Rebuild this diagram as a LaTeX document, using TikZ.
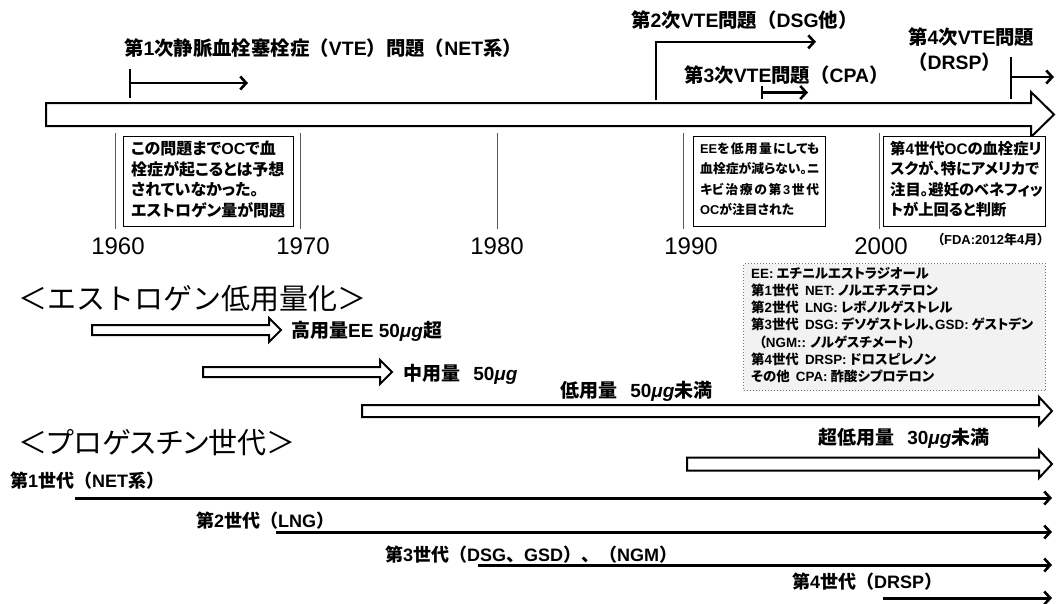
\documentclass[tikz,border=0pt]{standalone}
\usepackage{fontspec}
\usetikzlibrary{arrows.meta}
\newfontfamily\jp{Noto Sans CJK JP}
\newfontfamily\jpp[RawFeature=+palt]{Noto Sans CJK JP}
\newfontfamily\yr{Liberation Sans}
\newfontfamily\lat{Liberation Sans}
\newcommand\la[1]{{\lat #1}}
\newcommand\mug{{\lat\itshape μg}}
\newcommand\fs[2]{\fontsize{#1}{#2}\selectfont}
\newcommand\jline[1]{\hbox to 119pt{#1}}
\newcommand\hollowarr[6]{%
  \draw[hol] (#1,#3-#4) -- (#2-#6,#3-#4) -- (#2-#6,#3-#5) -- (#2,#3) -- (#2-#6,#3+#5) -- (#2-#6,#3+#4) -- (#1,#3+#4) -- cycle;}
\tikzset{
  hol/.style={draw=black,fill=white,line width=2pt,line join=miter},
  mk/.style={line width=2.6pt},
  mkarr/.style={line width=2.6pt,-{Straight Barb[length=6pt,width=13pt,line width=2.6pt]}},
  genarr/.style={line width=3pt,-{Straight Barb[length=6pt,width=13pt,line width=2.6pt]}},
  decline/.style={black!65,line width=1pt},
  lbl/.style={inner sep=0,anchor=west,font=\jp\bfseries\fs{19.4}{23}},
  boxt/.style={draw=black,line width=1.4pt,fill=white,inner sep=0,anchor=north west},
  boxtxt/.style={inner sep=0,anchor=north west,align=left},
  yearl/.style={inner sep=0,font=\yr\fs{24}{28}},
  head/.style={inner sep=0,anchor=west,font=\jp\fs{29}{34}},
  dose/.style={inner sep=0,anchor=west,font=\jp\bfseries\fs{19}{23}},
  gen/.style={inner sep=0,anchor=west,font=\jp\bfseries\fs{18}{22}},
}
\begin{document}
\begin{tikzpicture}[x=1pt,y=-1pt]
\useasboundingbox (0,0) rectangle (1056,603);
\fill[white] (0,0) rectangle (1056,603);
% main timeline arrow
\draw[line width=2pt,fill=white,line join=miter] (46,103) -- (1031,103) -- (1031,92) -- (1054,114.5) -- (1031,137) -- (1031,126) -- (46,126) -- cycle;
% VTE labels
\node[lbl] (v1) at (124,48) {第\la{1}次静脈血栓塞栓症（\la{VTE}）問題（\la{NET}系）};
\node[lbl] (v2) at (631,20) {第\la{2}次\la{VTE}問題（\la{DSG}他）};
\node[lbl] (v3) at (684,75) {第\la{3}次\la{VTE}問題（\la{CPA}）};
\node[lbl] (v4a) at (908,37) {第\la{4}次\la{VTE}問題};
\node[lbl] (v4b) at (908,62) {（\la{DRSP}）};
% markers
\coordinate (m1a) at (130,69); \coordinate (m1b) at (130,98);
\coordinate (m1c) at (130,83); \coordinate (m1d) at (248,83);
\draw[mk] (m1a) -- (m1b);
\draw[mkarr] (m1c) -- (m1d);
\coordinate (m2a) at (656,100); \coordinate (m2b) at (656,41.8); \coordinate (m2c) at (816,41.8);
\draw[mkarr,line join=miter] (m2a) -- (m2b) -- (m2c);
\coordinate (m3a) at (762,86); \coordinate (m3b) at (762,99);
\coordinate (m3c) at (762,92.5); \coordinate (m3d) at (808,92.5);
\draw[mk] (m3a) -- (m3b);
\draw[mkarr] (m3c) -- (m3d);
\coordinate (m4a) at (1011,57); \coordinate (m4b) at (1011,99);
\coordinate (m4c) at (1011,77); \coordinate (m4d) at (1054,77);
\draw[mk] (m4a) -- (m4b);
\draw[mkarr] (m4c) -- (m4d);
% decade lines
\foreach \x in {115,300,497,683,879} \draw[decline] (\x,133) -- (\x,229);
% boxes
\node[boxt,minimum width=170pt,minimum height=90pt] (b1) at (123,136) {};
\node[boxtxt,font=\jpp\bfseries\fs{16}{20.5}] (t1) at (131,141)
 {この問題まで\la{OC}で血\\栓症が起こるとは予想\\されていなかった。\\エストロゲン量が問題};
\node[boxt,minimum width=132pt,minimum height=90pt] (b2) at (693,136) {};
\node[boxtxt,font=\jpp\bfseries\fs{12.8}{20.5}] (t2) at (700,142)
 {\jline{\la{EE}を\hfil 低\hfil 用\hfil 量\hfil にしても}\\
  \jline{血\hfil 栓\hfil 症\hfil が\hfil 減\hfil ら\hfil な\hfil い\hfil 。ニ}\\
  \jline{キビ\hfil 治\hfil 療\hfil の\hfil 第\hfil \la{3}\hfil 世\hfil 代}\\
  \la{OC}が注目された};
\node[boxt,minimum width=162pt,minimum height=90pt] (b3) at (883,136) {};
\node[boxtxt,font=\jpp\bfseries\fs{15.3}{20.5}] (t3) at (890,141)
 {第\la{4}世代\la{OC}の血栓症リ\\スクが、特にアメリカで\\注目。避妊のベネフィッ\\トが上回ると判断};
\node[inner sep=0,anchor=east,font=\jpp\bfseries\fs{13}{15}] (fda) at (1044,240) {（\la{FDA:2012}年\la{4}月）};
% years
\node[yearl] (y60) at (118,246) {1960};
\node[yearl] (y70) at (303,246) {1970};
\node[yearl] (y80) at (497,246) {1980};
\node[yearl] (y90) at (691,246) {1990};
\node[yearl] (y00) at (881,246) {2000};
% legend
\node[draw=black!55,dotted,line width=1pt,fill=black!5,inner sep=0,anchor=north west,minimum width=302pt,minimum height=127pt] (leg) at (743,263) {};
\node[boxtxt,font=\jpp\bfseries\fs{13.4}{17.2}] (legt) at (751,267)
 {\la{EE:} エチニルエストラジオール\\
 第\la{1}世代\ \ \la{NET:} ノルエチステロン\\
 第\la{2}世代\ \ \la{LNG:} レボノルゲストレル\\
 第\la{3}世代\ \ \la{DSG:} デソゲストレル、\la{GSD:} ゲストデン\\
 \hspace*{0.6em}（\la{NGM::} ノルゲスチメート）\\
 第\la{4}世代\ \ \la{DRSP:} ドロスピレノン\\
 その他\ \ \la{CPA:} 酢酸シプロテロン};
% estrogen
\node[head] (h1) at (18,299) {＜エストロゲン低用量化＞};
\hollowarr{92}{281}{330}{5}{12}{12}
\node[dose] (d1) at (291,331) {高用量\la{EE 50}\mug 超};
\hollowarr{203}{392}{372}{5}{12}{12}
\node[dose] (d2) at (403,374) {中用量\ \ \ \la{50}\mug};
\node[dose] (d3) at (560,391) {低用量\ \ \ \la{50}\mug 未満};
\hollowarr{362}{1052}{411}{6}{14}{13}
\node[dose] (d4) at (818,438) {超低用量\ \ \ \la{30}\mug 未満};
\hollowarr{687}{1052}{464}{6.5}{14}{13}
% progestin
\node[head,font=\jpp\fs{29}{34}] (h2) at (18,443) {＜プロゲスチン世代＞};
\node[gen] (g1) at (10,481) {第\la{1}世代（\la{NET}系）};
\coordinate (g1s) at (75,498); \coordinate (g1e) at (1052,498);
\draw[genarr] (g1s) -- (g1e);
\node[gen] (g2) at (196,521) {第\la{2}世代（\la{LNG}）};
\coordinate (g2s) at (276,532); \coordinate (g2e) at (1052,532);
\draw[genarr] (g2s) -- (g2e);
\node[gen] (g3) at (385,555) {第\la{3}世代（\la{DSG}、\la{GSD}）、（\la{NGM}）};
\coordinate (g3s) at (478,565); \coordinate (g3e) at (1052,565);
\draw[genarr] (g3s) -- (g3e);
\node[gen] (g4) at (792,582) {第\la{4}世代（\la{DRSP}）};
\coordinate (g4s) at (883,598); \coordinate (g4e) at (1052,598);
\draw[genarr] (g4s) -- (g4e);
\end{tikzpicture}
\end{document}
